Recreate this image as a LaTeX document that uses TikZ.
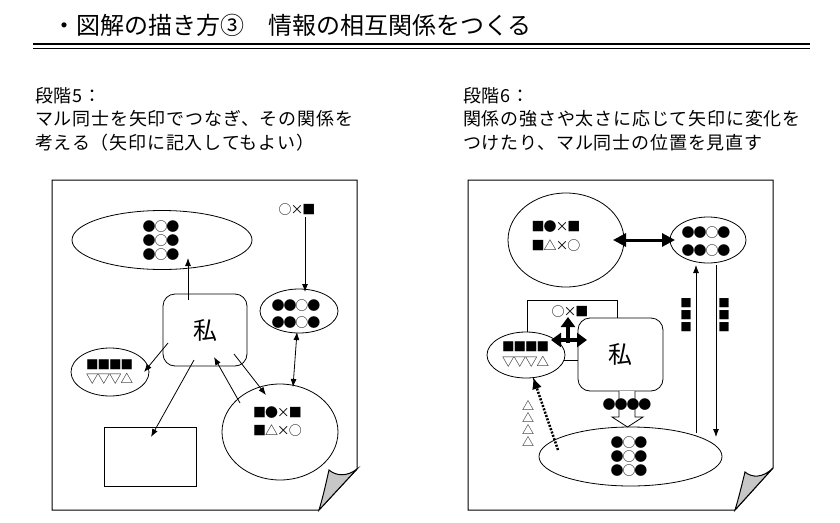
\documentclass[tikz,border=0pt]{standalone}
\usepackage{fontspec}
\setmainfont{Noto Sans CJK JP}
\newfontfamily\bodyfont[LetterSpace=4.5]{Noto Sans CJK JP}
\newfontfamily\symf[LetterSpace=-8]{Noto Sans CJK JP}
\usetikzlibrary{shapes.geometric,arrows.meta}
\begin{document}
\begin{tikzpicture}[x=1pt,y=-1pt,
  every node/.style={inner sep=0pt, outer sep=0pt},
  ln/.style={line width=0.8pt},
  ell/.style={draw, ellipse, line width=0.8pt, fill=white, inner sep=0pt},
  sym/.style={font=\symf\fontsize{13}{14}\selectfont, align=center},
  arr/.style={line width=0.8pt, -{Latex[length=8pt,width=6pt]}},
  darr/.style={line width=0.8pt, {Latex[length=8pt,width=6pt]}-{Latex[length=8pt,width=6pt]}},
  body/.style={font=\bodyfont\fontsize{18}{23}\selectfont, anchor=base west},
  page/.style={draw, line width=1pt, fill=white},
  curl/.style={draw, line width=1pt, fill=black!22},
  mebox/.style={draw, line width=0.8pt, fill=white, rounded corners=12pt, font=\fontsize{24}{28}\selectfont},
]
\useasboundingbox (0,0) rectangle (840,522);
\fill[white] (0,0) rectangle (840,522);

% title
\node[font=\fontsize{24}{28}\selectfont, anchor=base west] (title) at (52,34) {・図解の描き方③　情報の相互関係をつくる};
\draw[line width=2pt] (33,44) -- (810,44);
\draw[line width=1.3pt] (33,48.5) -- (810,48.5);

% captions
\node[body] (l1) at (35,102) {段階5：};
\node[body] (l2) at (35,125.5) {マル同士を矢印でつなぎ、その関係を};
\node[body] (l3) at (35,149) {考える（矢印に記入してもよい）};
\node[body] (r1) at (463,102) {段階6：};
\node[body] (r2) at (463,125.5) {関係の強さや太さに応じて矢印に変化を};
\node[body] (r3) at (463,149) {つけたり、マル同士の位置を見直す};

% ---------------- left page
\draw[page] (52,180) -- (357,180) -- (357,469) -- (319,510) -- (52,510) -- cycle;
\draw[curl] (329,470) .. controls (336,476) and (347,477) .. (357,469) -- (319,510) .. controls (323,497) and (326,483) .. (329,470) -- cycle;

\node[ell, minimum width=180pt, minimum height=59pt] (eTop) at (162,240) {};
\node[sym] (dTop) at (161,241) {●○●\\●○●\\●○●};
\node[sym] (oxs) at (297,210) {○×■};
\node[ell, minimum width=78pt, minimum height=44pt] (eR) at (299,311) {};
\node[sym, font=\symf\fontsize{13}{17}\selectfont] (dR) at (296,314.5) {●●○●\\●●○●};
\node[mebox, minimum width=84pt, minimum height=72pt] (me1) at (205,330) {私};
\node[ell, minimum width=78pt, minimum height=48pt] (eL) at (110,372) {};
\node[sym, font=\symf\fontsize{12.5}{14}\selectfont] (sL) at (109.5,372) {■■■■\\▽▽▽△};
\node[draw, ln, minimum width=92pt, minimum height=59pt] (rect) at (150,456.5) {};
\node[ell, minimum width=116pt, minimum height=96pt] (eB) at (280,432) {};
\node[sym, font=\symf\fontsize{13}{18}\selectfont] (sB) at (277.5,422) {■●×■\\■△×○};

\coordinate (a1) at (188,300); \coordinate (a2) at (188,258);
\coordinate (b1) at (305,217); \coordinate (b2) at (305,292);
\coordinate (c1) at (168,343); \coordinate (c2) at (144,372);
\coordinate (d1) at (194,360); \coordinate (d2) at (151,437);
\coordinate (e1) at (240,403); \coordinate (e2) at (214,357);
\coordinate (f1) at (234,354); \coordinate (f2) at (266,395);
\coordinate (g1) at (297,332); \coordinate (g2) at (293,387);
\draw[arr] (a1) -- (a2);
\draw[arr] (b1) -- (b2);
\draw[arr] (c1) -- (c2);
\draw[arr] (d1) -- (d2);
\draw[arr] (e1) -- (e2);
\draw[arr] (f1) -- (f2);
\draw[darr] (g1) -- (g2);

% ---------------- right page
\draw[page] (468,180) -- (773,180) -- (773,468) -- (735,510) -- (468,510) -- cycle;
\draw[curl] (745,472) .. controls (752,478) and (763,478) .. (773,468) -- (735,510) .. controls (739,497) and (742,484) .. (745,472) -- cycle;

\node[ell, minimum width=116pt, minimum height=94pt] (fTL) at (566,240) {};
\node[sym, font=\symf\fontsize{13}{19}\selectfont] (tTL) at (556,236.5) {■●×■\\■△×○};
\node[ell, minimum width=76pt, minimum height=46pt] (fTR) at (708,240) {};
\node[sym, font=\symf\fontsize{13}{18}\selectfont] (tTR) at (706,242) {●●○●\\●●○●};
\node[sym, font=\symf\fontsize{11.5}{12}\selectfont] (sq1) at (686,315) {■\\■\\■};
\node[sym, font=\symf\fontsize{11.5}{12}\selectfont] (sq2) at (724,315) {■\\■\\■};

\node[draw, ln, fill=white, minimum width=90pt, minimum height=60pt] (rb) at (572,330) {};
\node[sym] (tb) at (570,312) {○×■};
\node[ell, minimum width=78pt, minimum height=46pt] (fL) at (526,355) {};
\node[sym, font=\symf\fontsize{12.5}{15}\selectfont] (tL) at (525.5,354.5) {■■■■\\▽▽▽△};
\node[mebox, minimum width=85pt, minimum height=73pt] (me2) at (620.5,354.5) {私};
\node[sym, font=\symf\fontsize{12}{12.3}\selectfont] (tri) at (528,423.5) {△\\△\\△\\△};

\node[ell, minimum width=183pt, minimum height=59pt] (fB) at (630.5,456.5) {};
\node[sym] (tB) at (629,457) {●○●\\●○●\\●○●};

% block arrow from me2 to fB
\draw[ln, fill=white] (me2.south -| 619,0) -- (619,417) -- (612,417) -- (fB.north -| 627.5,0) -- (643,417) -- (635,417) -- (me2.south -| 635,0);
\node[sym, font=\symf\fontsize{13}{12}\selectfont] (d4) at (627,405) {●●●●};

\coordinate (h1) at (613,240); \coordinate (h2) at (675,240);
\draw[line width=3pt, {Triangle[length=13pt,width=13pt]}-{Triangle[length=13pt,width=13pt]}] (h1) -- (h2);
\coordinate (i1) at (696,433); \coordinate (i2) at (696,265);
\draw[arr] (i1) -- (i2);
\coordinate (j1) at (716,265); \coordinate (j2) at (716,437);
\draw[arr] (j1) -- (j2);
\coordinate (k1) at (568,343); \coordinate (k2) at (568,317);
\draw[line width=4pt, -{Triangle[length=10pt,width=14pt]}] (k1) -- (k2);
\coordinate (m1) at (551,340); \coordinate (m2) at (587,340);
\draw[line width=4pt, {Triangle[length=10pt,width=14pt]}-{Triangle[length=10pt,width=14pt]}] (m1) -- (m2);
\coordinate (n1) at (558,450); \coordinate (n2) at (533,377);
\draw[line width=2.5pt, dash pattern=on 2pt off 1.5pt, -{Latex[length=12pt,width=10pt]}] (n1) -- (n2);
\end{tikzpicture}
\end{document}
